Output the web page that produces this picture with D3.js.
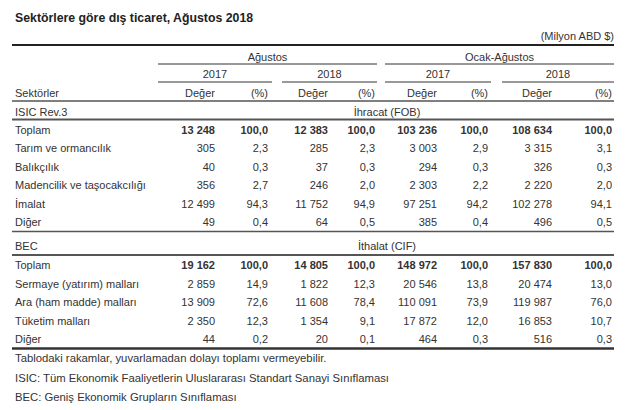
<!DOCTYPE html>
<html><head><meta charset="utf-8">
<script src="https://cdn.jsdelivr.net/npm/d3@7"></script>
<style>body{margin:0;background:#fff}svg{display:block}text{font-family:Arial,"Liberation Sans",sans-serif}</style>
</head><body><svg id="c" width="640" height="410"></svg>
<script>
const title = "Sektörlere göre dış ticaret, Ağustos 2018";
const unitLabel = "(Milyon ABD $)";
const periods = ["Ağustos", "Ocak-Ağustos"];
const years = ["2017", "2018", "2017", "2018"];
const colHeaders = ["Değer", "(%)", "Değer", "(%)", "Değer", "(%)", "Değer", "(%)"];

const isicLabels = ["Toplam", "Tarım ve ormancılık", "Balıkçılık", "Madencilik ve taşocakcılığı", "İmalat", "Diğer"];
const exportAug2017 = [13248, 305, 40, 356, 12499, 49];
const exportAug2017Pct = [100.0, 2.3, 0.3, 2.7, 94.3, 0.4];
const exportAug2018 = [12383, 285, 37, 246, 11752, 64];
const exportAug2018Pct = [100.0, 2.3, 0.3, 2.0, 94.9, 0.5];
const exportJA2017 = [103236, 3003, 294, 2303, 97251, 385];
const exportJA2017Pct = [100.0, 2.9, 0.3, 2.2, 94.2, 0.4];
const exportJA2018 = [108634, 3315, 326, 2220, 102278, 496];
const exportJA2018Pct = [100.0, 3.1, 0.3, 2.0, 94.1, 0.5];

const becLabels = ["Toplam", "Sermaye (yatırım) malları", "Ara (ham madde) malları", "Tüketim malları", "Diğer"];
const importAug2017 = [19162, 2859, 13909, 2350, 44];
const importAug2017Pct = [100.0, 14.9, 72.6, 12.3, 0.2];
const importAug2018 = [14805, 1822, 11608, 1354, 20];
const importAug2018Pct = [100.0, 12.3, 78.4, 9.1, 0.1];
const importJA2017 = [148972, 20546, 110091, 17872, 464];
const importJA2017Pct = [100.0, 13.8, 73.9, 12.0, 0.3];
const importJA2018 = [157830, 20474, 119987, 16853, 516];
const importJA2018Pct = [100.0, 13.0, 76.0, 10.7, 0.3];

const footnotes = [
  "Tablodaki rakamlar, yuvarlamadan dolayı toplamı vermeyebilir.",
  "ISIC: Tüm Ekonomik Faaliyetlerin Uluslararası Standart Sanayi Sınıflaması",
  "BEC: Geniş Ekonomik Grupların Sınıflaması"
];

const svg = d3.select("#c");
const ink = "#333";
const L = 12, R = 614, TX = 15;

// column right edges
const colX = d3.scaleOrdinal().domain(d3.range(8)).range([215, 268, 328, 375, 437, 488, 552, 612]);
const yearSpan = [[158, 272], [282, 377], [385, 491], [502, 614]];
const periodSpan = [[158, 377], [385, 614]];

const fmtNum = v => d3.format(",")(v).split(",").join(" ");
const fmtPct = v => d3.format(".1f")(v).replace(".", ",");

function line(x1, x2, y, w, col) {
  svg.append("line").attr("x1", x1).attr("x2", x2).attr("y1", y).attr("y2", y)
    .attr("stroke", col).attr("stroke-width", w);
}
function txt(x, y, s, anchor, opts = {}) {
  return svg.append("text").attr("x", x).attr("y", y).attr("text-anchor", anchor || "start")
    .attr("font-size", opts.size || 11).attr("font-weight", opts.bold ? "bold" : "normal")
    .attr("fill", opts.fill || ink).text(s);
}

txt(TX, 22, title, "start", {size: 12.3, bold: true, fill: "#222"});
txt(R, 40, unitLabel, "end", {size: 11});

line(L, R, 45, 2, "#222");
periods.forEach((p, i) => {
  const [a, b] = periodSpan[i];
  txt((a + b) / 2, 60.5, p, "middle");
  line(a, b, 64, 1, "#333");
});
years.forEach((yv, i) => {
  const [a, b] = yearSpan[i];
  txt((a + b) / 2, 78, yv, "middle");
  line(a, b, 82, 1, "#333");
});
txt(TX, 97, "Sektörler");
colHeaders.forEach((h, i) => txt(colX(i), 97, h, "end"));
line(L, R, 101, 1.5, "#555");

// ISIC section
txt(TX, 116, "ISIC  Rev.3");
txt(387, 116, "İhracat (FOB)", "middle");
line(L, R, 119.5, 2, "#555");

const isicCols = [exportAug2017, exportAug2017Pct, exportAug2018, exportAug2018Pct, exportJA2017, exportJA2017Pct, exportJA2018, exportJA2018Pct];
const yIsic = d3.scaleLinear().domain([0, 5]).range([130, 222.3]);
isicLabels.forEach((lab, r) => {
  const y = yIsic(r) + 4;
  txt(TX, y, lab);
  isicCols.forEach((col, c) => {
    const v = col[r];
    txt(colX(c), y, c % 2 ? fmtPct(v) : fmtNum(v), "end", {bold: r === 0});
  });
});
line(L, R, 231.5, 1.5, "#555");

// BEC section
txt(TX, 250, "BEC");
txt(387, 250, "İthalat (CIF)", "middle");
line(L, R, 255, 2, "#555");

const becCols = [importAug2017, importAug2017Pct, importAug2018, importAug2018Pct, importJA2017, importJA2017Pct, importJA2018, importJA2018Pct];
const yBec = d3.scaleLinear().domain([0, 4]).range([265, 339]);
becLabels.forEach((lab, r) => {
  const y = yBec(r) + 4;
  txt(TX, y, lab);
  becCols.forEach((col, c) => {
    const v = col[r];
    txt(colX(c), y, c % 2 ? fmtPct(v) : fmtNum(v), "end", {bold: r === 0});
  });
});
line(L, R, 348.5, 2.5, "#333");

const yFoot = d3.scaleLinear().domain([0, 2]).range([362, 401]);
footnotes.forEach((f, i) => txt(TX, yFoot(i), f, "start", {size: 11.3}));
</script></body></html>
